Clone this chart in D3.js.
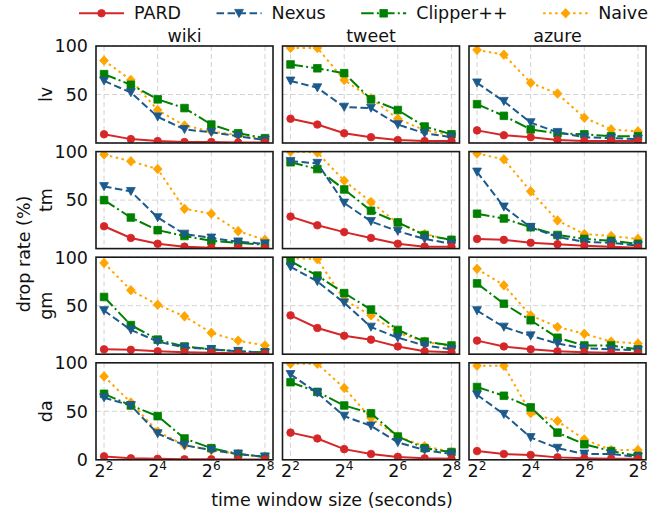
<!DOCTYPE html>
<html>
<head>
<meta charset="utf-8">
<script src="https://cdn.jsdelivr.net/npm/d3@7"></script>
<style>
  body { margin: 0; background: #fff; }
  svg text { font-family: 'DejaVu Sans', sans-serif; fill: #111; }
</style>
</head>
<body>
<svg id="chart" width="657" height="516"></svg>
<script>
// MARK: Data.

const windows   = [4, 8, 16, 32, 64, 128, 256]
const datasets  = ['wiki', 'tweet', 'azure']
const workloads = ['lv', 'tm', 'gm', 'da']
const methods   = ['PARD', 'Nexus', 'Clipper++', 'Naive']
const xTickExps = [2, 4, 6, 8]
const yTicks    = [0, 50, 100]

// drop rate (%): one row per workload, then one array per dataset (wiki, tweet, azure).
const pardDrop = [
  [[9, 4, 2, 1, 1, 0.5, 0.5],        [25, 19, 10, 6, 3, 2, 2],   [13, 8, 6, 3, 2, 2, 2]],
  [[23, 11, 5, 2, 1, 0.7, 0.3],      [33, 24, 17, 11, 5, 2, 2],  [10, 9, 6, 4.5, 3, 2, 1]],
  [[5, 4.5, 3, 2, 1.5, 1, 0.5],      [40, 27, 19, 15, 8, 3, 2],  [14, 8, 5, 3, 2, 1.5, 1]],
  [[3.5, 1.5, 1, 0.5, 0.5, 0.3, 0.3], [28, 22, 11, 6, 3, 1.5, 1], [9, 6, 5, 2.5, 1.5, 1, 1]],
]
const nexusDrop = [
  [[64, 52, 27, 14, 11, 7, 3],  [64, 57, 37, 36, 19, 10, 6], [62, 43, 21, 11, 6, 5, 4]],
  [[64, 59, 32, 15, 11, 7, 5],  [90, 88, 47, 28, 18, 10, 5], [79, 43, 22, 12, 7, 6, 3]],
  [[45, 25, 13, 7, 5, 3, 1.5],  [90, 75, 53, 28, 17, 9, 5],  [45, 28, 19, 11, 6, 5, 4]],
  [[64, 56, 27, 15, 10, 6, 3],  [88, 69, 45, 35, 18, 10, 6], [67, 47, 23, 12, 6, 6, 3]],
]
const clipperDrop = [
  [[71, 60, 45, 36, 19, 10, 5], [81, 77, 72, 45, 34, 17, 9], [40, 28, 14, 10, 9, 7, 7]],
  [[50, 32, 19, 13, 8, 6, 4],   [89, 82, 61, 39, 27, 14, 9], [36, 31, 22, 14, 10, 8, 5]],
  [[59, 30, 15, 8, 5, 3, 2],    [96, 81, 63, 46, 25, 13, 9], [73, 52, 35, 17, 9, 9, 5]],
  [[68, 56, 45, 22, 12, 6, 3],  [80, 70, 56, 48, 24, 12, 8], [75, 66, 54, 28, 16, 9, 4]],
]
const naiveDrop = [
  [[85, 65, 34, 18, 12, 8, 4],  [98, 98, 65, 46, 25, 13, 8],  [96, 91, 62, 51, 26, 14, 12]],
  [[97, 90, 82, 41, 36, 18, 9], [100, 99, 70, 48, 26, 15, 9], [98, 92, 59, 29, 15, 13, 10]],
  [[94, 66, 51, 39, 22, 14, 9], [99, 98, 56, 40, 22, 13, 8],  [88, 71, 40, 28, 21, 13, 11]],
  [[86, 59, 29, 15, 10, 6, 3],  [99, 99, 74, 43, 24, 14, 8],  [97, 97, 48, 40, 21, 10, 10]],
]

const drops = {
  'PARD'     : pardDrop,
  'Nexus'    : nexusDrop,
  'Clipper++': clipperDrop,
  'Naive'    : naiveDrop,
}

// MARK: Styles and layout.

const styles = {
  'PARD'     : { color: '#d62728', dash: null,              marker: 'circle'  },
  'Nexus'    : { color: '#1d5a8c', dash: '7.5,3.5',         marker: 'tri'     },
  'Clipper++': { color: '#008000', dash: '12.5,3.2,2,3.2',  marker: 'square'  },
  'Naive'    : { color: '#ffa500', dash: '2.5,3.5',         marker: 'diamond' },
}

const FONT   = 17.5
const W      = 177
const H      = 97
const colX   = (c) => 96 + c * 186.5
const rowY   = (r) => 46 + r * 105.6

const x = d3.scaleLog().base(2).domain([2 ** 1.7, 2 ** 8.3]).range([0, W])
const y = d3.scaleLinear().domain([0, 100]).range([H, 0])

function markerPath(kind) {
  switch (kind) {
    case 'circle' : return d3.symbol(d3.symbolCircle, Math.PI * 3.8 * 3.8)()
    case 'square' : return 'M-3.8,-3.8h7.6v7.6h-7.6z'
    case 'tri'    : return 'M-4.4,-3.9L4.4,-3.9L0,4.2Z'
    case 'diamond': return 'M0,-4.8L4.4,0L0,4.8L-4.4,0Z'
  }
}

const svg = d3.select('#chart')

// MARK: Panels.

const points = windows.map((w, i) => ({ w, i }))
const line   = d3.line()

workloads.forEach((workload, r) => {
  datasets.forEach((dataset, c) => {
    const g = svg.append('g')
      .attr('transform', `translate(${colX(c)},${rowY(r)})`)
    const clipId = `clip-${r}-${c}`
    g.append('clipPath').attr('id', clipId)
      .append('rect').attr('width', W).attr('height', H)

    // Grid lines.
    g.append('g').selectAll('line.vx')
      .data(xTickExps).enter()
      .append('line')
      .attr('x1', (e) => x(2 ** e)).attr('x2', (e) => x(2 ** e))
      .attr('y1', 0).attr('y2', H)
    g.append('g').selectAll('line.hy')
      .data(yTicks).enter()
      .append('line')
      .attr('x1', 0).attr('x2', W)
      .attr('y1', (v) => y(v)).attr('y2', (v) => y(v))
    g.selectAll('g line')
      .attr('stroke'          , '#d3d3d3')
      .attr('stroke-width'    , 1)
      .attr('stroke-dasharray', '5,3')

    // Series, drawn from Naive up to PARD.
    const plot = g.append('g').attr('clip-path', `url(#${clipId})`)
    methods.slice().reverse().forEach((m) => {
      const st   = styles[m]
      const vals = drops[m][r][c]
      plot.append('path')
        .attr('d', line(windows.map((w, i) => [x(w), y(vals[i])])))
        .attr('fill'            , 'none')
        .attr('stroke'          , st.color)
        .attr('stroke-width'    , 2)
        .attr('stroke-dasharray', st.dash)
      plot.append('g').selectAll('path')
        .data(points).enter()
        .append('path')
        .attr('d'           , markerPath(st.marker))
        .attr('transform'   , (d) => `translate(${x(d.w)},${y(vals[d.i])})`)
        .attr('fill'        , st.color)
        .attr('stroke'      , st.color)
        .attr('stroke-width', 0.8)
    })

    // Spines.
    g.append('rect')
      .attr('width'       , W)
      .attr('height'      , H)
      .attr('fill'        , 'none')
      .attr('stroke'      , '#1a1a1a')
      .attr('stroke-width', 1.6)

    // Y tick labels: the bottom row keeps its 0.
    const shown = r === workloads.length - 1 ? yTicks : yTicks.filter((v) => v > 0)
    if (c === 0) {
      g.append('g').selectAll('text')
        .data(shown).enter()
        .append('text')
        .attr('x'          , -8)
        .attr('y'          , (v) => y(v))
        .attr('dy'         , '0.36em')
        .attr('text-anchor', 'end')
        .attr('font-size'  , FONT)
        .text((v) => v)
    }

    // X tick labels as powers of two.
    if (r === workloads.length - 1) {
      const t = g.append('g').selectAll('text')
        .data(xTickExps).enter()
        .append('text')
        .attr('x'          , (e) => x(2 ** e))
        .attr('y'          , H + 17.5)
        .attr('text-anchor', 'middle')
        .attr('font-size'  , FONT)
        .text('2')
      t.append('tspan')
        .attr('dy'       , -7)
        .attr('font-size', 12.2)
        .text((e) => e)
    }

    if (r === 0) {
      g.append('text')
        .attr('x'          , W / 2)
        .attr('y'          , -4.5)
        .attr('text-anchor', 'middle')
        .attr('font-size'  , FONT)
        .text(dataset)
    }
    if (c === 0) {
      g.append('text')
        .attr('transform'  , `translate(${51.7 - colX(0)},${H / 2}) rotate(-90)`)
        .attr('text-anchor', 'middle')
        .attr('font-size'  , FONT)
        .text(workload)
    }
  })
})

// MARK: Figure labels.

svg.append('text')
  .attr('transform'  , 'translate(29.5,254) rotate(-90)')
  .attr('text-anchor', 'middle')
  .attr('font-size'  , FONT)
  .text('drop rate (%)')

svg.append('text')
  .attr('x'          , 332)
  .attr('y'          , 506)
  .attr('text-anchor', 'middle')
  .attr('font-size'  , FONT)
  .text('time window size (seconds)')

// MARK: Legend.

const legend = svg.append('g')
let hx = 79
methods.forEach((m) => {
  const st = styles[m]
  legend.append('line')
    .attr('x1', hx).attr('x2', hx + 45)
    .attr('y1', 13.3).attr('y2', 13.3)
    .attr('stroke'          , st.color)
    .attr('stroke-width'    , 2)
    .attr('stroke-dasharray', st.dash)
  legend.append('path')
    .attr('d'           , markerPath(st.marker))
    .attr('transform'   , `translate(${hx + 22.5},13.3)`)
    .attr('fill'        , st.color)
    .attr('stroke'      , st.color)
    .attr('stroke-width', 0.8)
  const label = legend.append('text')
    .attr('x'        , hx + 55)
    .attr('y'        , 19)
    .attr('font-size', FONT)
    .text(m)
  hx += 55 + label.node().getComputedTextLength() + 35.5
})
</script>
</body>
</html>
